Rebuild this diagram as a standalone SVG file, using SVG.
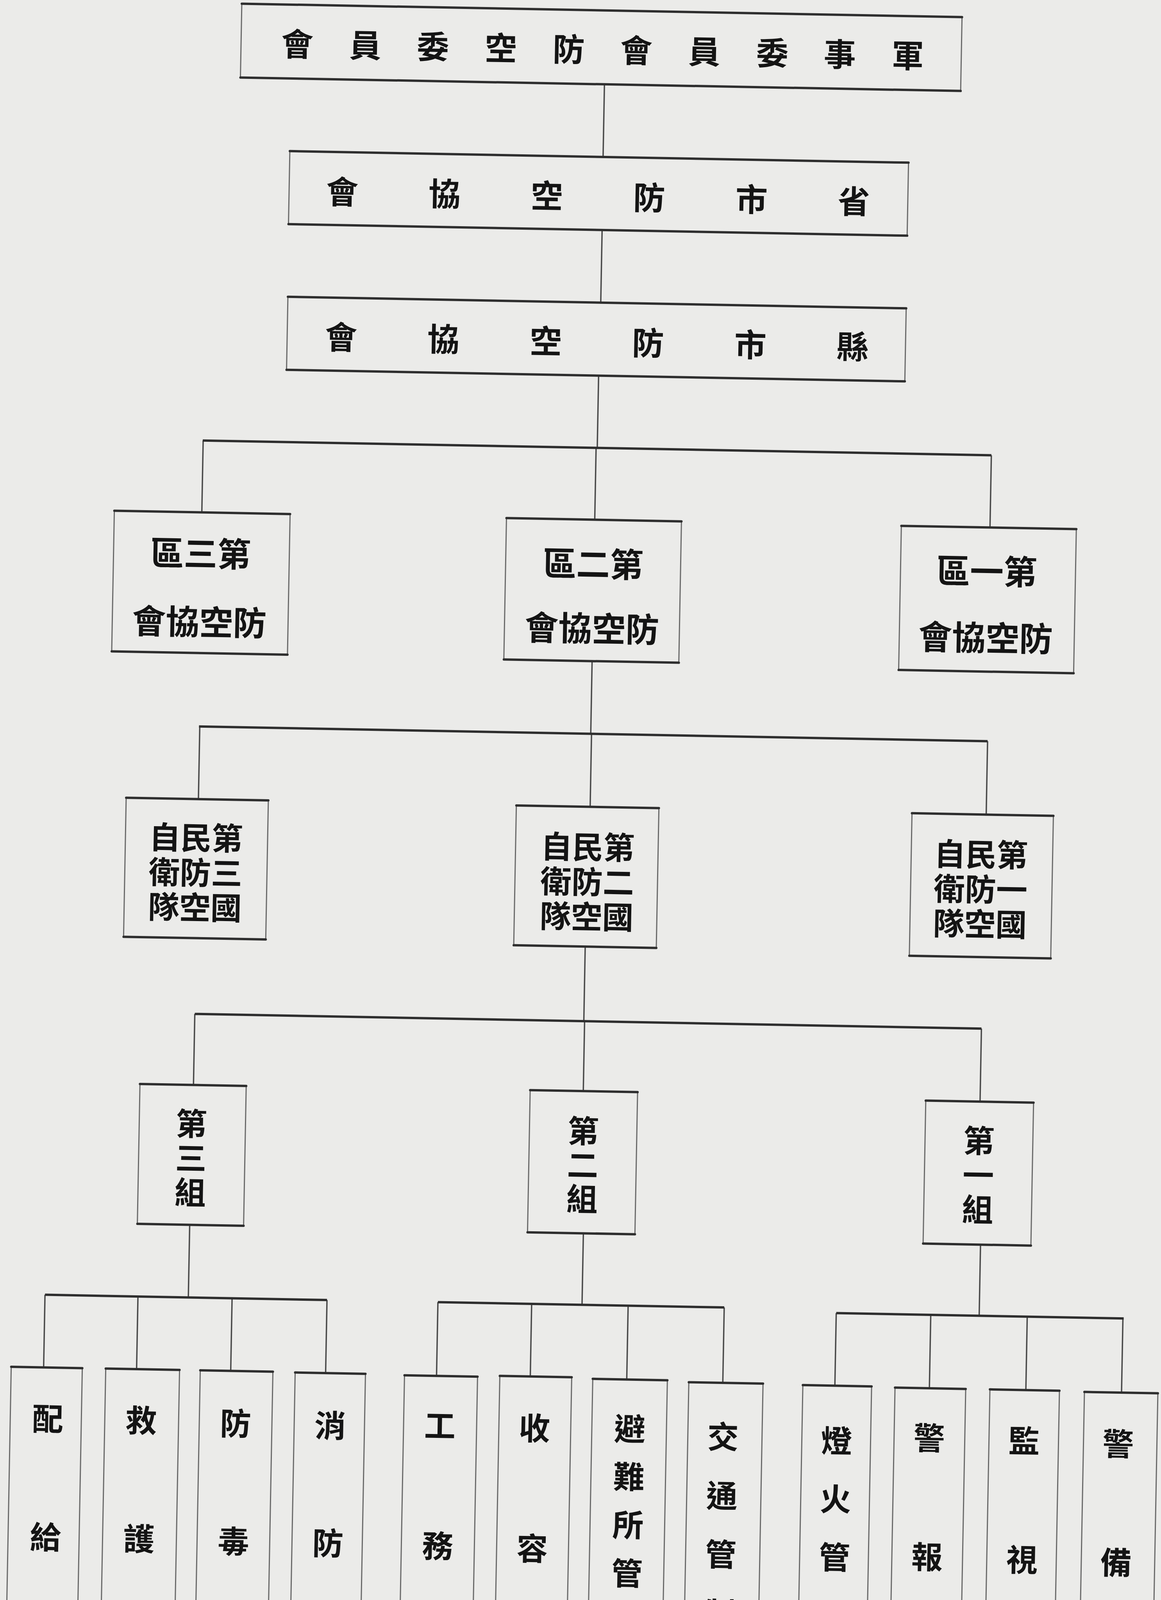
<svg xmlns="http://www.w3.org/2000/svg" width="2972" height="4424" viewBox="0 0 2972 4424">
<style>
.side{fill:none;stroke:#6a6a6a;stroke-width:3}
.edge{stroke:#2e2e2e;stroke-width:6;stroke-linecap:round}
.v{stroke:#4a4a4a;stroke-width:3.5;fill:none}
.h{stroke:#2e2e2e;stroke-width:6;fill:none}
text{font-family:"Noto Sans CJK TC","Noto Sans CJK SC",sans-serif;font-weight:700;fill:#141414;dominant-baseline:central;text-anchor:middle}
.t1{font-size:82px}
.t4{font-size:86px}
.t5{font-size:80px}
.t6{font-size:80px}
.t7{font-size:80px}
</style>
<rect x="0" y="0" width="2972" height="4424" fill="#ebebe9"/>
<g transform="rotate(1.07 1486 2212)">
<g id="connectors">
<path class="v" d="M1510 215V401 M1511 588V774 M1509 961V1146 M500 1146V1330 M1506 1146V1330 M2518 1146V1331 M1506 1692V1878 M505 1878V2064 M1508 1878V2065 M2522 1878V2066 M1502 2423V2614 M506 2614V2796 M1504 2614V2793 M2520 2614V2801 M503 3154V3340 M136 3340V3526 M374 3340V3526 M615 3340V3526 M858 3340V3527 M1511 3157V3340 M1142 3340V3529 M1382 3340V3526 M1629 3340V3529 M1875 3340V3533 M2528 3167V3349 M2162 3349V3535 M2404 3349V3537 M2651 3349V3537 M2896 3349V3539"/>
<path class="h" d="M499 1146H2518 M503 1878H2522 M506 2614H2520 M136 3340H858 M1142 3340H1875 M2162 3349H2898"/>
</g>
<g id="n-military">
<rect class="side" x="578" y="26" width="1844" height="189"/>
<path class="edge" d="M578 26H2422 M578 215H2422"/>
<text class="t1" x="722 896 1069 1243 1417 1590 1764 1938 2111 2285" y="122">會員委空防會員委事軍</text>
</g>
<g id="n-province">
<rect class="side" x="708" y="401" width="1584" height="187"/>
<path class="edge" d="M708 401H2292 M708 588H2292"/>
<text class="t1" x="844 1106 1368 1630 1892 2154" y="498">會協空防市省</text>
</g>
<g id="n-county">
<rect class="side" x="710" y="774" width="1583" height="187"/>
<path class="edge" d="M710 774H2293 M710 961H2293"/>
<text class="t1" x="848 1110 1372 1634 1896 2158" y="870">會協空防市縣</text>
</g>
<g id="n-district3">
<rect class="side" x="276" y="1330" width="450" height="360"/>
<path class="edge" d="M276 1330H726 M276 1690H726"/>
<text class="t4" x="499" y="1430">區三第</text>
<text class="t4" x="499" y="1605">會協空防</text>
</g>
<g id="n-district2">
<rect class="side" x="1280" y="1330" width="448" height="362"/>
<path class="edge" d="M1280 1330H1728 M1280 1692H1728"/>
<text class="t4" x="1504" y="1438">區二第</text>
<text class="t4" x="1504" y="1603">會協空防</text>
</g>
<g id="n-district1">
<rect class="side" x="2291" y="1331" width="448" height="369"/>
<path class="edge" d="M2291 1331H2739 M2291 1700H2739"/>
<text class="t4" x="2512" y="1438">區一第</text>
<text class="t4" x="2512" y="1608">會協空防</text>
</g>
<g id="n-corps3">
<rect class="side" x="320" y="2064" width="364" height="356"/>
<path class="edge" d="M320 2064H684 M320 2420H684"/>
<text class="t5" x="501" y="2158">自民第</text>
<text class="t5" x="501" y="2247">衛防三</text>
<text class="t5" x="501" y="2336">隊空國</text>
</g>
<g id="n-corps2">
<rect class="side" x="1319" y="2065" width="365" height="358"/>
<path class="edge" d="M1319 2065H1684 M1319 2423H1684"/>
<text class="t5" x="1504" y="2163">自民第</text>
<text class="t5" x="1504" y="2252">衛防二</text>
<text class="t5" x="1504" y="2341">隊空國</text>
</g>
<g id="n-corps1">
<rect class="side" x="2332" y="2066" width="362" height="365"/>
<path class="edge" d="M2332 2066H2694 M2332 2431H2694"/>
<text class="t5" x="2511" y="2163">自民第</text>
<text class="t5" x="2511" y="2252">衛防一</text>
<text class="t5" x="2511" y="2341">隊空國</text>
</g>
<g id="n-group3">
<rect class="side" x="369" y="2796" width="272" height="358"/>
<path class="edge" d="M369 2796H641 M369 3154H641"/>
<text class="t6" x="503 503 503" y="2890 2978 3066">第三組</text>
</g>
<g id="n-group2">
<rect class="side" x="1368" y="2793" width="275" height="364"/>
<path class="edge" d="M1368 2793H1643 M1368 3157H1643"/>
<text class="t6" x="1506 1506 1506" y="2890 2977 3064">第二組</text>
</g>
<g id="n-group1">
<rect class="side" x="2381" y="2801" width="276" height="366"/>
<path class="edge" d="M2381 2801H2657 M2381 3167H2657"/>
<text class="t6" x="2519 2519 2519" y="2896 2984 3072">第一組</text>
</g>
<g id="n-supply">
<rect class="side" x="53" y="3526" width="182" height="859"/>
<path class="edge" d="M53 3526H235 M53 4385H235"/>
<text class="t7" x="149 149 149" y="3652 3955 4258">配給班</text>
</g>
<g id="n-rescue">
<rect class="side" x="295" y="3526" width="189" height="859"/>
<path class="edge" d="M295 3526H484 M295 4385H484"/>
<text class="t7" x="388 388 388" y="3652 3955 4258">救護班</text>
</g>
<g id="n-antigas">
<rect class="side" x="537" y="3526" width="186" height="859"/>
<path class="edge" d="M537 3526H723 M537 4385H723"/>
<text class="t7" x="630 630 630" y="3655 3957 4258">防毒班</text>
</g>
<g id="n-fire">
<rect class="side" x="780" y="3527" width="180" height="859"/>
<path class="edge" d="M780 3527H960 M780 4386H960"/>
<text class="t7" x="872 872 872" y="3656 3957 4258">消防班</text>
</g>
<g id="n-works">
<rect class="side" x="1060" y="3529" width="187" height="860"/>
<path class="edge" d="M1060 3529H1247 M1060 4389H1247"/>
<text class="t7" x="1153 1153 1153" y="3651 3959 4260">工務班</text>
</g>
<g id="n-shelter">
<rect class="side" x="1304" y="3526" width="184" height="862"/>
<path class="edge" d="M1304 3526H1488 M1304 4388H1488"/>
<text class="t7" x="1395 1395 1395" y="3653 3961 4259">收容班</text>
</g>
<g id="n-refuge">
<rect class="side" x="1542" y="3529" width="191" height="866"/>
<path class="edge" d="M1542 3529H1733 M1542 4395H1733"/>
<text class="t7" x="1639 1639 1639 1639 1639 1639" y="3650 3773 3896 4020 4143 4266">避難所管理班</text>
</g>
<g id="n-traffic">
<rect class="side" x="1788" y="3533" width="190" height="860"/>
<path class="edge" d="M1788 3533H1978 M1788 4393H1978"/>
<text class="t7" x="1878 1878 1878 1878 1878" y="3666 3817 3967 4118 4268">交通管制班</text>
</g>
<g id="n-lights">
<rect class="side" x="2080" y="3535" width="176" height="861"/>
<path class="edge" d="M2080 3535H2256 M2080 4396H2256"/>
<text class="t7" x="2169 2169 2169 2169 2169" y="3671 3820 3969 4118 4267">燈火管制班</text>
</g>
<g id="n-alarm">
<rect class="side" x="2316" y="3537" width="181" height="857"/>
<path class="edge" d="M2316 3537H2497 M2316 4394H2497"/>
<text class="t7" x="2406 2406 2406" y="3659 3964 4264">警報班</text>
</g>
<g id="n-watch">
<rect class="side" x="2559" y="3537" width="178" height="857"/>
<path class="edge" d="M2559 3537H2737 M2559 4394H2737"/>
<text class="t7" x="2649 2649 2649" y="3662 3966 4270">監視班</text>
</g>
<g id="n-guard">
<rect class="side" x="2801" y="3539" width="188" height="853"/>
<path class="edge" d="M2801 3539H2989 M2801 4392H2989"/>
<text class="t7" x="2890 2890 2890" y="3665 3969 4274">警備班</text>
</g>
</g>
</svg>
